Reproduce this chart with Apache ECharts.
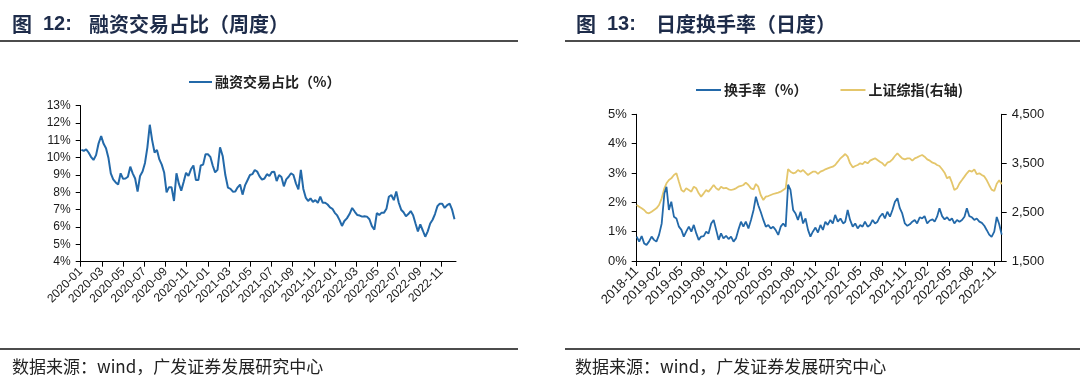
<!DOCTYPE html>
<html><head><meta charset="utf-8">
<script src="https://cdn.jsdelivr.net/npm/echarts@6/dist/echarts.min.js"></script>
<style>html,body{margin:0;padding:0;background:#fff}#c{width:1080px;height:385px}</style>
</head><body><div id="c"></div>
<script>
// ---- Figure 12: weekly margin-trading share (%) ----
const marginStartDate = '2020-01-03'; // first weekly observation (Friday)
const marginValues = [
10.45,10.4,10.48,10.3,10.05,9.87,10.15,10.83,11.25,10.8,
10.55,10.0,9.1,8.75,8.57,8.45,9.1,8.78,8.8,8.9,
9.48,9.1,8.8,8.05,8.95,9.2,9.7,10.6,11.9,11.0,
10.3,10.45,9.9,9.6,9.15,8.0,8.3,8.3,7.5,9.1,
8.5,8.1,8.6,9.13,8.95,9.33,9.55,8.71,8.71,9.55,
9.6,10.2,10.2,10.05,9.55,9.15,9.3,10.6,10.1,9.0,
8.27,8.2,8.04,8.05,8.29,8.45,7.87,8.4,8.7,9.0,
9.05,9.29,9.2,8.92,8.73,8.8,9.05,8.94,9.17,9.19,
8.65,9.0,8.88,8.35,8.75,8.9,9.1,9.0,8.52,8.17,
9.3,8.2,7.7,7.5,7.65,7.45,7.55,7.4,7.75,7.4,
7.4,7.3,7.13,7.05,6.82,6.67,6.4,6.06,6.35,6.5,
6.75,7.1,6.88,6.69,6.66,6.6,6.62,6.6,6.45,6.05,
5.85,6.8,6.7,6.83,6.83,7.05,7.75,7.85,7.55,8.05,
7.4,7.0,6.85,6.62,6.75,6.92,6.68,6.2,5.75,6.15,
5.8,5.44,5.75,6.2,6.42,6.75,7.2,7.35,7.35,7.1,
7.27,7.35,7.0,6.45];
const marginTickLabels = ['2020-01','2020-03','2020-05','2020-07','2020-09','2020-11',
'2021-01','2021-03','2021-05','2021-07','2021-09','2021-11',
'2022-01','2022-03','2022-05','2022-07','2022-09','2022-11'];
const marginYTicks = [4,5,6,7,8,9,10,11,12,13];

// ---- Figure 13: turnover (%) and SSE composite, sampled on the 1st/11th/21st ----
const turnStartMonth = '2018-11';
const turnSampleDays = [1, 11, 21];
const turnoverValues = [
0.83,0.66,0.85,0.6,0.55,0.66,0.83,0.72,0.66,0.89,
1.28,2.3,2.53,1.74,2.02,1.51,1.45,1.17,1.06,0.83,
1.0,1.17,1.0,1.23,0.94,0.72,0.83,0.85,1.0,0.94,
1.28,1.4,1.06,0.72,0.94,0.77,0.86,0.75,0.83,0.66,
0.77,1.06,1.34,1.17,1.34,1.11,1.4,1.74,2.19,1.9,
1.68,1.4,1.17,1.23,1.11,1.17,1.06,0.89,1.17,1.28,
1.17,2.6,2.42,1.74,1.62,1.4,1.68,1.28,1.45,1.06,
0.83,1.0,1.14,0.97,1.23,1.06,1.34,1.23,1.4,1.28,
1.57,1.34,1.45,1.28,1.34,1.74,1.4,1.17,1.28,1.11,
1.23,1.17,1.34,1.17,1.23,1.4,1.28,1.34,1.51,1.62,
1.45,1.68,1.51,1.74,2.02,2.14,1.8,1.62,1.28,1.2,
1.25,1.34,1.4,1.28,1.49,1.45,1.53,1.28,1.38,1.42,
1.34,1.51,1.8,1.53,1.42,1.49,1.38,1.45,1.28,1.4,
1.34,1.4,1.51,1.8,1.53,1.49,1.4,1.45,1.34,1.3,
1.2,1.05,0.9,0.82,1.0,1.5,1.25,0.9];
const shIndexValues = [
2645,2611,2577,2543,2488,2475,2509,2543,2577,2645,
2782,2986,3088,3156,3190,3259,3293,3122,2952,2918,
2986,2952,2918,3020,2986,2884,2816,2884,2952,2918,
2986,3054,2986,2952,3020,2986,2996,2966,2952,2966,
2986,3020,3034,3054,3102,3054,2986,2966,3075,3020,
2850,2747,2816,2829,2850,2870,2884,2897,2918,2952,
2986,3380,3327,3293,3306,3361,3327,3361,3306,3259,
3293,3327,3327,3283,3327,3347,3375,3395,3415,3429,
3463,3531,3600,3647,3688,3634,3497,3415,3443,3463,
3497,3483,3531,3497,3552,3579,3600,3565,3531,3497,
3443,3511,3531,3579,3647,3702,3647,3600,3579,3600,
3600,3552,3600,3620,3647,3668,3634,3579,3552,3511,
3497,3463,3443,3375,3306,3190,3225,3102,2952,2986,
3088,3156,3225,3293,3347,3327,3375,3279,3293,3259,
3230,3150,3050,2960,2930,3080,3150,3070];
const turnTickLabels = ['2018-11','2019-02','2019-05','2019-08','2019-11','2020-02','2020-05',
'2020-08','2020-11','2021-02','2021-05','2021-08','2021-11','2022-02','2022-05','2022-08','2022-11'];
const turnLeftTicks = [0,1,2,3,4,5];
const turnRightTicks = [1500,2500,3500,4500];

// ---- date helpers ----
function pad(n){return (n<10?'0':'')+n;}
function weeklyDates(start, n){
  const [y,m,d]=start.split('-').map(Number); const out=[];
  for(let i=0;i<n;i++){const t=new Date(Date.UTC(y,m-1,d+7*i));out.push(t.getUTCFullYear()+'-'+pad(t.getUTCMonth()+1)+'-'+pad(t.getUTCDate()));}
  return out;
}
function sampledDates(startMonth, days, n){
  let [y,m]=startMonth.split('-').map(Number); const out=[];
  while(out.length<n){for(const d of days){if(out.length<n) out.push(y+'-'+pad(m)+'-'+pad(d));} m++; if(m>12){m=1;y++;}}
  return out;
}
function monthPos(s, baseY, baseM){
  const [y,m,d]=s.split('-').map(Number); const dim=new Date(y,m,0).getDate();
  return (y-baseY)*12+(m-baseM)+(d-1)/dim;
}
const marginDates = weeklyDates(marginStartDate, marginValues.length);
const turnDates = sampledDates(turnStartMonth, turnSampleDays, turnoverValues.length);
const marginX = marginDates.map(s=>monthPos(s,2020,1));
const turnX = turnDates.map(s=>monthPos(s,2018,11));
const marginXTicks = marginTickLabels.map((_,i)=>i*2);
const turnXTicks = turnTickLabels.map((_,i)=>i*3);

const BLUE='#2369A9', YELLOW='#E4C66B', AX='#000', LBL='#1a1a1a';
const CJK='"Noto Sans CJK SC","Noto Sans CJK JP",sans-serif';
const LAT='"Liberation Sans",Arial,sans-serif';

function baseAxis(extra){
  return Object.assign({
    axisLine:{show:true,onZero:false,lineStyle:{color:AX,width:1}},
    splitLine:{show:false}
  }, extra);
}

const chart = echarts.init(document.getElementById('c'), null, {renderer:'canvas'});
const titleColor='#1e2c4a';
const option = {
  animation:false,
  backgroundColor:'#fff',
  textStyle:{fontFamily:LAT},
  grid:[
    {left:80.7, top:105.7, width:375.3, height:156},
    {left:636.7, top:114.3, width:365, height:146.7}
  ],
  legend:[
    {data:['融资交易占比（%）'], left:184, top:70, icon:'rect', itemWidth:23, itemHeight:2,
     textStyle:{fontFamily:CJK,fontSize:14,fontWeight:'bold',color:'#222',padding:[0,0,0,-2]}},
    {data:['换手率（%）','上证综指(右轴)'], left:691, top:78, icon:'rect', itemWidth:25, itemHeight:2, itemGap:33,
     textStyle:{fontFamily:CJK,fontSize:14,fontWeight:'bold',color:'#222',padding:[0,0,0,-2]}}
  ],
  xAxis:[
    baseAxis({type:'value', gridIndex:0, min:0, max:35.4,
      axisTick:{show:true,customValues:marginXTicks,length:5,lineStyle:{color:AX}},
      axisLabel:{customValues:marginXTicks, formatter:v=>marginTickLabels[Math.round(v/2)]||'', rotate:45, fontSize:12, color:LBL, margin:8, fontFamily:LAT}}),
    baseAxis({type:'value', gridIndex:1, min:0, max:49,
      axisTick:{show:true,customValues:turnXTicks,length:5,lineStyle:{color:AX}},
      axisLabel:{customValues:turnXTicks, formatter:v=>turnTickLabels[Math.round(v/3)]||'', rotate:45, fontSize:13, color:LBL, margin:8, fontFamily:LAT}})
  ],
  yAxis:[
    baseAxis({type:'value', gridIndex:0, min:4, max:13, interval:1,
      axisTick:{show:true,length:5,lineStyle:{color:AX}},
      axisLabel:{formatter:'{value}%', fontSize:12, color:LBL, margin:10, fontFamily:LAT}}),
    baseAxis({type:'value', gridIndex:1, min:0, max:5, interval:1,
      axisTick:{show:true,length:5,lineStyle:{color:AX}},
      axisLabel:{formatter:'{value}%', fontSize:13, color:LBL, margin:10, fontFamily:LAT}}),
    baseAxis({type:'value', gridIndex:1, position:'right', min:1500, max:4500,
      axisTick:{show:true,customValues:turnRightTicks,length:5,lineStyle:{color:AX}},
      axisLabel:{customValues:turnRightTicks, formatter:v=>v.toLocaleString('en-US'), fontSize:13, color:LBL, margin:10, fontFamily:LAT}})
  ],
  series:[
    {name:'融资交易占比（%）', type:'line', xAxisIndex:0, yAxisIndex:0, showSymbol:false, symbol:'none',
     data:marginX.map((x,i)=>[x, marginValues[i]]), lineStyle:{color:BLUE,width:2}, itemStyle:{color:BLUE}},
    {name:'上证综指(右轴)', type:'line', xAxisIndex:1, yAxisIndex:2, showSymbol:false, symbol:'none', z:2,
     data:turnX.map((x,i)=>[x, shIndexValues[i]]), lineStyle:{color:YELLOW,width:1.8}, itemStyle:{color:YELLOW}},
    {name:'换手率（%）', type:'line', xAxisIndex:1, yAxisIndex:1, showSymbol:false, symbol:'none', z:3,
     data:turnX.map((x,i)=>[x, turnoverValues[i]]), lineStyle:{color:BLUE,width:1.8}, itemStyle:{color:BLUE}}
  ],
  graphic:[
    {type:'text', x:12, y:24, style:{text:'图', font:'bold 20px '+CJK, fill:titleColor, verticalAlign:'middle'}},
    {type:'text', x:43, y:24, style:{text:'12:', font:'bold 20px '+LAT, fill:titleColor, verticalAlign:'middle'}},
    {type:'text', x:89, y:24, style:{text:'融资交易占比（周度）', font:'bold 20px '+CJK, fill:titleColor, verticalAlign:'middle'}},
    {type:'text', x:576, y:24, style:{text:'图', font:'bold 20px '+CJK, fill:titleColor, verticalAlign:'middle'}},
    {type:'text', x:607, y:24, style:{text:'13:', font:'bold 20px '+LAT, fill:titleColor, verticalAlign:'middle'}},
    {type:'text', x:656, y:24, style:{text:'日度换手率（日度）', font:'bold 20px '+CJK, fill:titleColor, verticalAlign:'middle'}},
    {type:'line', shape:{x1:0,y1:41,x2:518,y2:41}, style:{stroke:'#111',lineWidth:1.5}},
    {type:'line', shape:{x1:565,y1:41,x2:1080,y2:41}, style:{stroke:'#111',lineWidth:1.5}},
    {type:'line', shape:{x1:0,y1:349,x2:518,y2:349}, style:{stroke:'#111',lineWidth:1.3}},
    {type:'line', shape:{x1:565,y1:349,x2:1080,y2:349}, style:{stroke:'#111',lineWidth:1.3}},
    {type:'text', x:12, y:367, style:{text:'数据来源：wind，广发证券发展研究中心', font:'17px '+CJK, fill:'#222', verticalAlign:'middle'}},
    {type:'text', x:575, y:367, style:{text:'数据来源：wind，广发证券发展研究中心', font:'17px '+CJK, fill:'#222', verticalAlign:'middle'}}
  ]
};
chart.setOption(option);
</script>
</body></html>
